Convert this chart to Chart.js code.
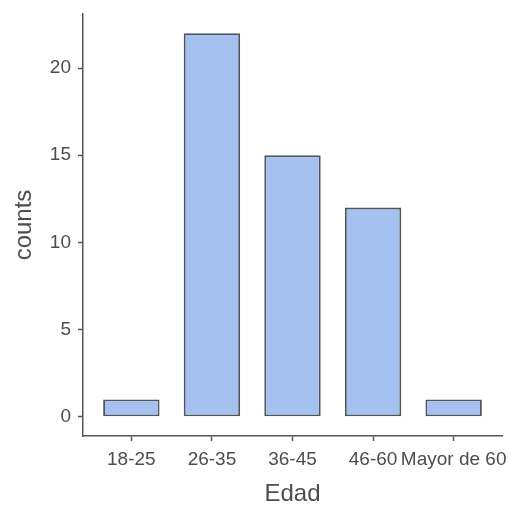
<!DOCTYPE html>
<html><head><meta charset="utf-8">
<script src="https://cdn.jsdelivr.net/npm/chart.js@4/dist/chart.umd.min.js"></script>
<style>html,body{margin:0;padding:0;background:#fff;}canvas{display:block;}</style>
</head><body>
<canvas id="c" width="511" height="510"></canvas>
<script>
const categories = ["18-25", "26-35", "36-45", "46-60", "Mayor de 60"];
const counts = [1, 22, 15, 12, 1];
const yTicks = [0, 5, 10, 15, 20];
const xTitle = "Edad";
const yTitle = "counts";

const FONT = "'Liberation Sans', Arial, sans-serif";
const data = categories.map((c, i) => ({x: i + 1, y: counts[i]}));

new Chart(document.getElementById('c'), {
  type: 'bar',
  data: { datasets: [{
    data: data,
    backgroundColor: '#a5c1f0',
    borderColor: '#50555c',
    borderWidth: 1.9,
    borderSkipped: false,
    barPercentage: 0.7,
    categoryPercentage: 1.0
  }]},
  options: {
    responsive: false,
    animation: false,
    devicePixelRatio: 1,
    layout: { padding: { top: 14, right: 9, left: 0, bottom: 0 } },
    plugins: { legend: { display: false }, tooltip: { enabled: false } },
    scales: {
      x: {
        type: 'linear',
        offset: false,
        min: 0.4, max: 5.6,
        afterBuildTicks: (s) => { s.ticks = categories.map((c, i) => ({value: i + 1})); },
        afterFit: (s) => { s.height = 74; s.paddingLeft = 0; s.paddingRight = 0; },
        ticks: {
          autoSkip: false, maxRotation: 0,
          callback: (v) => categories[v - 1] || '',
          color: '#4d4d4d', font: { family: FONT, size: 19 }, padding: 7
        },
        grid: { offset: false, drawOnChartArea: false, drawTicks: true, tickLength: 5, tickColor: '#555', tickWidth: 1.5 },
        border: { display: true, color: '#555', width: 1.5 },
        title: { display: true, text: xTitle, color: '#4d4d4d', font: { family: FONT, size: 24 }, padding: { top: 0, bottom: 1 } }
      },
      y: {
        min: -1.1, max: 23.1,
        afterBuildTicks: (s) => { s.ticks = yTicks.map(v => ({value: v})); },
        afterFit: (s) => { s.width = 83; s.paddingTop = 0; s.paddingBottom = 0; },
        ticks: { color: '#4d4d4d', font: { family: FONT, size: 19 }, padding: 7 },
        grid: { drawOnChartArea: false, drawTicks: true, tickLength: 5, tickColor: '#555', tickWidth: 1.5 },
        border: { display: true, color: '#555', width: 1.5 },
        title: { display: true, text: yTitle, color: '#4d4d4d', font: { family: FONT, size: 24 }, padding: { top: 9.5, bottom: 0 } }
      }
    }
  }
});
</script>
</body></html>
